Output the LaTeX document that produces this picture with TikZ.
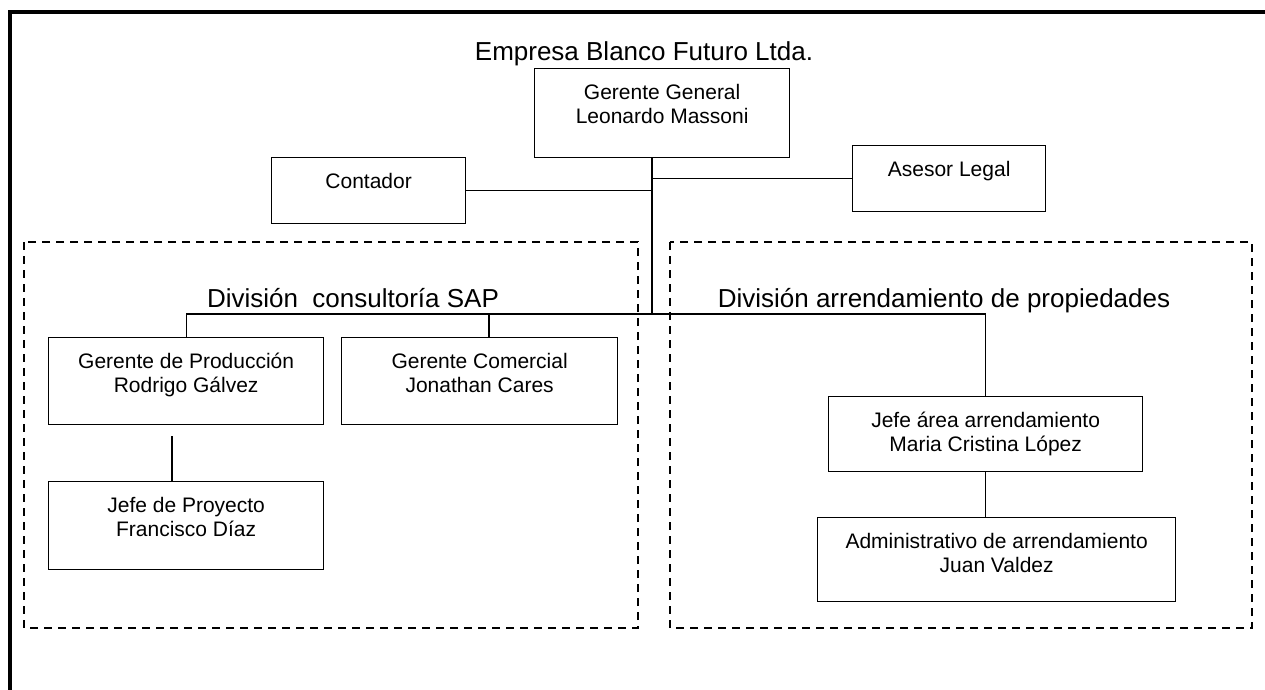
\documentclass[tikz,border=0pt]{standalone}
\usepackage{fontspec}
\setmainfont{Liberation Sans}
\begin{document}
\begin{tikzpicture}[x=1pt,y=-1pt,
  box/.style 2 args={draw, line width=1.3pt, anchor=north west, inner sep=0pt,
    minimum width=#1pt, minimum height=#2pt},
  celltext/.style={font=\fontsize{21}{24}\selectfont, align=center, anchor=north,
    inner sep=0pt, yshift=-16pt},
  link/.style={line width=1.1pt},
  frame/.style={line width=3.5pt},
  division/.style={line width=2pt, dash pattern=on 8pt off 6pt},
  heading/.style={font=\fontsize{26}{30}\selectfont, anchor=base, inner sep=0pt}
]
\useasboundingbox (0,0) rectangle (1265,690);

% outer frame
\draw[frame] (10,690) -- (10,12) -- (1265,12);

% company name
\node[heading] (title) at (644,61) {Empresa Blanco Futuro Ltda.};

% division areas
\draw[division] (24,242) rectangle (638,628);
\draw[division] (670,242) rectangle (1252,628);
\node[heading] (divsap) at (353,307) {División\ \ consultoría SAP};
\node[heading] (divarr) at (944,307) {División arrendamiento de propiedades};

% positions
\node[box={255}{89}, label={[celltext, name=ggtext]north:{Gerente General\\Leonardo Massoni}}] (gg) at (534,68) {};
\node[box={194}{66}, label={[celltext, name=conttext]north:{Contador}}] (cont) at (271,157) {};
\node[box={193}{66}, label={[celltext, name=asetext]north:{Asesor Legal}}] (ase) at (852,145) {};
\node[box={275}{87}, label={[celltext, name=gptext]north:{Gerente de Producción\\Rodrigo Gálvez}}] (gp) at (48,337) {};
\node[box={276}{87}, label={[celltext, name=gctext]north:{Gerente Comercial\\Jonathan Cares}}] (gc) at (341,337) {};
\node[box={275}{88}, label={[celltext, name=jptext]north:{Jefe de Proyecto\\Francisco Díaz}}] (jp) at (48,481) {};
\node[box={314}{75}, label={[celltext, name=jatext]north:{Jefe área arrendamiento\\Maria Cristina López}}] (ja) at (828,396) {};
\node[box={358}{84}, label={[celltext, name=aatext]north:{Administrativo de arrendamiento\\Juan Valdez}}] (aa) at (817,517) {};

% connectors
\coordinate (hub) at (652,314);
\coordinate (gcdrop) at (489,314);
\coordinate (gpjp) at (172,436);
\draw[link] (gg.south -| hub) -- (hub);
\draw[link] (cont.east) -- (cont.east -| hub);
\draw[link] (ase.west) -- (ase.west -| hub);
\draw[link] (gp.north) |- (ja.north |- hub) -- (ja.north);
\draw[link] (gcdrop) -- (gcdrop |- gc.north);
\draw[link] (gpjp) -- (gpjp |- jp.north);
\draw[link] (ja.south) -- (ja.south |- aa.north);
\end{tikzpicture}
\end{document}
